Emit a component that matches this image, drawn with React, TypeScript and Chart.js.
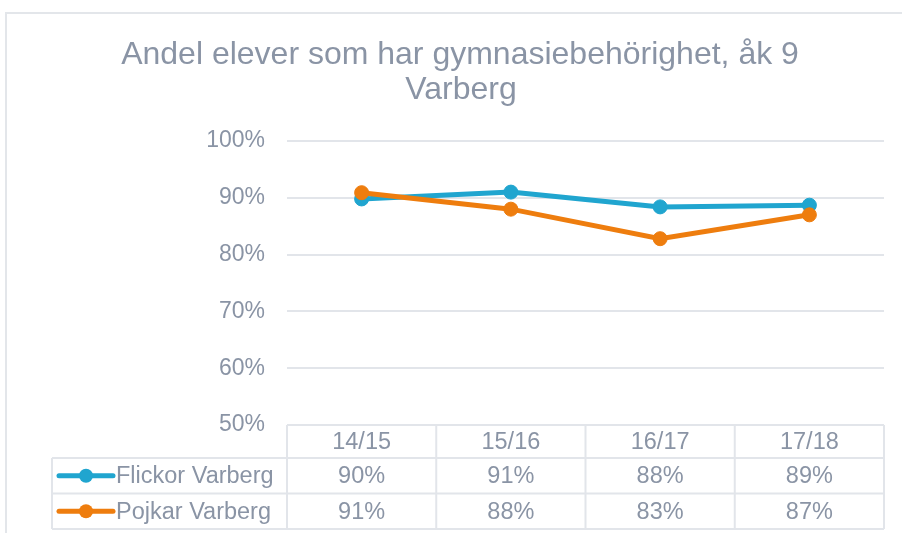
import React, { useEffect, useRef } from "react";
import { Chart, registerables } from "chart.js";

Chart.register(...registerables);

const titleLines = ["Andel elever som har gymnasiebehörighet, åk 9", "Varberg"];
const categories = ["14/15", "15/16", "16/17", "17/18"];
const flickorName = "Flickor Varberg";
const pojkarName = "Pojkar Varberg";
const flickor = [89.8, 91.0, 88.4, 88.7];
const pojkar = [90.9, 88.0, 82.8, 87.0];
const yMin = 50;
const yMax = 100;
const yStep = 10;

const BLUE = "#20a5cf";
const ORANGE = "#ee7d0e";
const TEXT = "#8a94a5";
const GRID = "#e2e5ea";
const FONT = "'Liberation Sans', Arial, sans-serif";

const W = 902;
const H = 533;

const decorPlugin = {
  id: "decor",
  beforeDraw(chart: any) {
    const ctx = chart.ctx;
    ctx.save();
    ctx.fillStyle = "#ffffff";
    ctx.fillRect(0, 0, W, H);
    // outer frame
    ctx.strokeStyle = "#e3e6ea";
    ctx.lineWidth = 2;
    ctx.beginPath();
    ctx.moveTo(6, H + 5);
    ctx.lineTo(6, 13);
    ctx.lineTo(W + 5, 13);
    ctx.stroke();
    // title
    ctx.fillStyle = TEXT;
    ctx.font = `32px ${FONT}`;
    ctx.textAlign = "center";
    ctx.textBaseline = "alphabetic";
    ctx.fillText(titleLines[0], 460, 64);
    ctx.fillText(titleLines[1], 461, 99);
    ctx.restore();
  },
  afterDraw(chart: any) {
    const ctx = chart.ctx;
    const area = chart.chartArea;
    const xs = chart.scales.x;
    const n = categories.length;
    const step = (area.right - area.left) / n;
    const top = area.bottom;
    const r1 = top + 33;
    const r2 = r1 + 35.5;
    const bottom = r2 + 35.5;
    const legendLeft = 52;
    ctx.save();
    ctx.strokeStyle = GRID;
    ctx.lineWidth = 2;
    ctx.beginPath();
    // horizontal lines
    ctx.moveTo(area.left, top);
    ctx.lineTo(area.right, top);
    for (const y of [r1, r2, bottom]) {
      ctx.moveTo(legendLeft, y);
      ctx.lineTo(area.right, y);
    }
    // vertical lines
    for (let i = 0; i <= n; i++) {
      const x = area.left + i * step;
      ctx.moveTo(x, top);
      ctx.lineTo(x, bottom);
    }
    ctx.moveTo(legendLeft, r1);
    ctx.lineTo(legendLeft, bottom);
    ctx.stroke();

    ctx.fillStyle = TEXT;
    ctx.font = `23.5px ${FONT}`;
    ctx.textBaseline = "middle";
    ctx.textAlign = "center";
    const rowsY = [(top + r1) / 2 + 1, (r1 + r2) / 2 + 1, (r2 + bottom) / 2 + 1];
    categories.forEach((c, i) => {
      const x = xs.getPixelForValue(i);
      ctx.fillText(c, x, rowsY[0]);
      ctx.fillText(Math.round(flickor[i]) + "%", x, rowsY[1]);
      ctx.fillText(Math.round(pojkar[i]) + "%", x, rowsY[2]);
    });

    const series = [
      { name: flickorName, color: BLUE, y: rowsY[1] - 1 },
      { name: pojkarName, color: ORANGE, y: rowsY[2] - 1 },
    ];
    for (const s of series) {
      ctx.strokeStyle = s.color;
      ctx.lineWidth = 5;
      ctx.lineCap = "round";
      ctx.beginPath();
      ctx.moveTo(59, s.y);
      ctx.lineTo(113, s.y);
      ctx.stroke();
      ctx.fillStyle = s.color;
      ctx.beginPath();
      ctx.arc(86, s.y, 7, 0, Math.PI * 2);
      ctx.fill();
      ctx.fillStyle = TEXT;
      ctx.textAlign = "left";
      ctx.fillText(s.name, 116, s.y + 1);
    }
    ctx.restore();
  },
};

export default function App() {
  const ref = useRef<HTMLCanvasElement | null>(null);

  useEffect(() => {
    document.body.style.margin = "0";
    const canvas = ref.current;
    if (!canvas) return;
    const chart = new Chart(canvas, {
      type: "line",
      data: {
        labels: categories,
        datasets: [
          {
            label: flickorName,
            data: flickor,
            borderColor: BLUE,
            backgroundColor: BLUE,
            pointBackgroundColor: BLUE,
            pointBorderColor: BLUE,
            borderWidth: 5,
            pointRadius: 7,
            pointBorderWidth: 1,
            tension: 0,
            order: 1,
          },
          {
            label: pojkarName,
            data: pojkar,
            borderColor: ORANGE,
            backgroundColor: ORANGE,
            pointBackgroundColor: ORANGE,
            pointBorderColor: ORANGE,
            borderWidth: 5,
            pointRadius: 7,
            pointBorderWidth: 1,
            tension: 0,
            order: 0,
          },
        ],
      },
      options: {
        responsive: false,
        animation: false,
        layout: { padding: { top: 141, bottom: 108, left: 0, right: 18 } },
        plugins: {
          legend: { display: false },
          title: { display: false },
          tooltip: { enabled: false },
        },
        scales: {
          x: {
            display: false,
            offset: true,
          },
          y: {
            min: yMin,
            max: yMax,
            afterFit: (s: any) => {
              s.width = 287;
            },
            border: { display: false },
            grid: { color: GRID, lineWidth: 2, drawTicks: false },
            ticks: {
              stepSize: yStep,
              padding: 22,
              color: TEXT,
              font: { family: FONT, size: 23 },
              callback: (v: any) => v + "%",
            },
          },
        },
      },
      plugins: [decorPlugin],
    });
    return () => chart.destroy();
  }, []);

  return (
    <div style={{ position: "fixed", left: 0, top: 0, width: W, height: H }}>
      <canvas ref={ref} width={W} height={H} style={{ display: "block" }} />
    </div>
  );
}
